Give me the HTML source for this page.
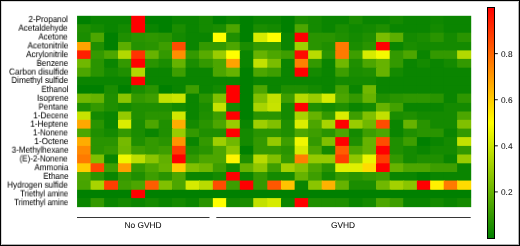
<!DOCTYPE html>
<html><head><meta charset="utf-8"><style>
html,body{margin:0;padding:0;background:#fff;}
body{width:520px;height:246px;position:relative;overflow:hidden;-webkit-font-smoothing:antialiased;text-rendering:geometricPrecision;font-family:"Liberation Sans",sans-serif;color:#000;-webkit-text-stroke:0.03px #000;}
.frame{position:absolute;left:0;top:0;width:518px;height:244px;border-left:1px solid #000;border-top:1px solid #000;border-right:1px solid #000;border-bottom:1px solid #000;box-shadow:inset 1px 1px 0 #d8d8d8, inset -1px -1px 0 #b0b0b0;}
svg{position:absolute;left:0;top:0;}
.lab{position:absolute;will-change:transform;transform-origin:100% 8px;right:451.9px;font-size:8.4px;line-height:10px;height:10px;white-space:nowrap;text-align:right;}
.tk{position:absolute;will-change:transform;left:501.2px;font-size:8.3px;line-height:10px;white-space:nowrap;}
.grp{position:absolute;will-change:transform;top:220.0px;font-size:8.4px;line-height:10px;white-space:nowrap;text-align:center;}
</style></head><body>
<div class="frame"></div>
<svg width="520" height="246" viewBox="0 0 520 246">
<defs><linearGradient id="g" x1="0" y1="0" x2="0" y2="1"><stop offset="0.000" stop-color="#ff0000"/><stop offset="0.050" stop-color="#ff1a00"/><stop offset="0.100" stop-color="#ff3300"/><stop offset="0.150" stop-color="#ff4c00"/><stop offset="0.200" stop-color="#ff6600"/><stop offset="0.250" stop-color="#ff8000"/><stop offset="0.300" stop-color="#ff9900"/><stop offset="0.350" stop-color="#ffb200"/><stop offset="0.400" stop-color="#ffcc00"/><stop offset="0.450" stop-color="#ffe500"/><stop offset="0.500" stop-color="#ffff00"/><stop offset="0.550" stop-color="#e5f200"/><stop offset="0.600" stop-color="#cce600"/><stop offset="0.650" stop-color="#b2d900"/><stop offset="0.700" stop-color="#99cc00"/><stop offset="0.750" stop-color="#80c000"/><stop offset="0.800" stop-color="#66b300"/><stop offset="0.850" stop-color="#4da600"/><stop offset="0.900" stop-color="#339900"/><stop offset="0.950" stop-color="#1a8d00"/><stop offset="1.000" stop-color="#008000"/></linearGradient></defs>
<mask id="gm" maskUnits="userSpaceOnUse" x="0" y="0" width="520" height="246"><rect x="77.05" y="15.8" width="394.15" height="191.35" fill="#fff"/></mask>
<g mask="url(#gm)"><rect x="77.00" y="15.00" width="14.60" height="10.20" fill="#008000"/><rect x="90.60" y="15.00" width="14.50" height="10.20" fill="#0a8500"/><rect x="104.10" y="15.00" width="14.90" height="10.20" fill="#0a8500"/><rect x="118.00" y="15.00" width="14.20" height="10.20" fill="#0a8500"/><rect x="131.20" y="15.00" width="14.85" height="10.20" fill="#ff0000"/><rect x="145.05" y="15.00" width="14.60" height="10.20" fill="#008000"/><rect x="158.65" y="15.00" width="14.35" height="10.20" fill="#008000"/><rect x="172.00" y="15.00" width="14.60" height="10.20" fill="#0a8500"/><rect x="185.60" y="15.00" width="14.40" height="10.20" fill="#0a8500"/><rect x="199.00" y="15.00" width="14.85" height="10.20" fill="#148a00"/><rect x="212.85" y="15.00" width="14.30" height="10.20" fill="#008000"/><rect x="226.15" y="15.00" width="14.65" height="10.20" fill="#0a8500"/><rect x="239.80" y="15.00" width="14.45" height="10.20" fill="#008000"/><rect x="253.25" y="15.00" width="15.05" height="10.20" fill="#0a8500"/><rect x="267.30" y="15.00" width="14.70" height="10.20" fill="#0a8500"/><rect x="281.00" y="15.00" width="14.65" height="10.20" fill="#008000"/><rect x="294.65" y="15.00" width="14.45" height="10.20" fill="#1a8d00"/><rect x="308.10" y="15.00" width="14.60" height="10.20" fill="#148a00"/><rect x="321.70" y="15.00" width="14.55" height="10.20" fill="#0a8500"/><rect x="335.25" y="15.00" width="14.65" height="10.20" fill="#0a8500"/><rect x="348.90" y="15.00" width="14.60" height="10.20" fill="#1a8d00"/><rect x="362.50" y="15.00" width="14.50" height="10.20" fill="#0a8500"/><rect x="376.00" y="15.00" width="14.70" height="10.20" fill="#0a8500"/><rect x="389.70" y="15.00" width="14.50" height="10.20" fill="#148a00"/><rect x="403.20" y="15.00" width="14.70" height="10.20" fill="#0a8500"/><rect x="416.90" y="15.00" width="14.25" height="10.20" fill="#0a8500"/><rect x="430.15" y="15.00" width="14.57" height="10.20" fill="#0f8800"/><rect x="443.72" y="15.00" width="14.38" height="10.20" fill="#0a8500"/><rect x="457.10" y="15.00" width="14.90" height="10.20" fill="#0a8500"/><rect x="77.00" y="24.20" width="14.60" height="9.50" fill="#1f8f00"/><rect x="90.60" y="24.20" width="14.50" height="9.50" fill="#148a00"/><rect x="104.10" y="24.20" width="14.90" height="9.50" fill="#0a8500"/><rect x="118.00" y="24.20" width="14.20" height="9.50" fill="#148a00"/><rect x="131.20" y="24.20" width="14.85" height="9.50" fill="#ff0000"/><rect x="145.05" y="24.20" width="14.60" height="9.50" fill="#0a8500"/><rect x="158.65" y="24.20" width="14.35" height="9.50" fill="#008000"/><rect x="172.00" y="24.20" width="14.60" height="9.50" fill="#1a8d00"/><rect x="185.60" y="24.20" width="14.40" height="9.50" fill="#0a8500"/><rect x="199.00" y="24.20" width="14.85" height="9.50" fill="#148a00"/><rect x="212.85" y="24.20" width="14.30" height="9.50" fill="#1a8d00"/><rect x="226.15" y="24.20" width="14.65" height="9.50" fill="#4ca600"/><rect x="239.80" y="24.20" width="14.45" height="9.50" fill="#008000"/><rect x="253.25" y="24.20" width="15.05" height="9.50" fill="#1a8d00"/><rect x="267.30" y="24.20" width="14.70" height="9.50" fill="#148a00"/><rect x="281.00" y="24.20" width="14.65" height="9.50" fill="#008000"/><rect x="294.65" y="24.20" width="14.45" height="9.50" fill="#4ca600"/><rect x="308.10" y="24.20" width="14.60" height="9.50" fill="#148a00"/><rect x="321.70" y="24.20" width="14.55" height="9.50" fill="#0a8500"/><rect x="335.25" y="24.20" width="14.65" height="9.50" fill="#1a8d00"/><rect x="348.90" y="24.20" width="14.60" height="9.50" fill="#0f8800"/><rect x="362.50" y="24.20" width="14.50" height="9.50" fill="#148a00"/><rect x="376.00" y="24.20" width="14.70" height="9.50" fill="#1f8f00"/><rect x="389.70" y="24.20" width="14.50" height="9.50" fill="#0a8500"/><rect x="403.20" y="24.20" width="14.70" height="9.50" fill="#0a8500"/><rect x="416.90" y="24.20" width="14.25" height="9.50" fill="#0a8500"/><rect x="430.15" y="24.20" width="14.57" height="9.50" fill="#148a00"/><rect x="443.72" y="24.20" width="14.38" height="9.50" fill="#0a8500"/><rect x="457.10" y="24.20" width="14.90" height="9.50" fill="#0a8500"/><rect x="77.00" y="32.70" width="14.60" height="10.30" fill="#1a8d00"/><rect x="90.60" y="32.70" width="14.50" height="10.30" fill="#4ca600"/><rect x="104.10" y="32.70" width="14.90" height="10.30" fill="#008000"/><rect x="118.00" y="32.70" width="14.20" height="10.30" fill="#1f8f00"/><rect x="131.20" y="32.70" width="14.85" height="10.30" fill="#299400"/><rect x="145.05" y="32.70" width="14.60" height="10.30" fill="#2e9700"/><rect x="158.65" y="32.70" width="14.35" height="10.30" fill="#299400"/><rect x="172.00" y="32.70" width="14.60" height="10.30" fill="#148a00"/><rect x="185.60" y="32.70" width="14.40" height="10.30" fill="#0a8500"/><rect x="199.00" y="32.70" width="14.85" height="10.30" fill="#0a8500"/><rect x="212.85" y="32.70" width="14.30" height="10.30" fill="#ffff00"/><rect x="226.15" y="32.70" width="14.65" height="10.30" fill="#1f8f00"/><rect x="239.80" y="32.70" width="14.45" height="10.30" fill="#008000"/><rect x="253.25" y="32.70" width="15.05" height="10.30" fill="#d6eb00"/><rect x="267.30" y="32.70" width="14.70" height="10.30" fill="#ffff00"/><rect x="281.00" y="32.70" width="14.65" height="10.30" fill="#0a8500"/><rect x="294.65" y="32.70" width="14.45" height="10.30" fill="#ff0000"/><rect x="308.10" y="32.70" width="14.60" height="10.30" fill="#299400"/><rect x="321.70" y="32.70" width="14.55" height="10.30" fill="#299400"/><rect x="335.25" y="32.70" width="14.65" height="10.30" fill="#1f8f00"/><rect x="348.90" y="32.70" width="14.60" height="10.30" fill="#148a00"/><rect x="362.50" y="32.70" width="14.50" height="10.30" fill="#1f8f00"/><rect x="376.00" y="32.70" width="14.70" height="10.30" fill="#7abd00"/><rect x="389.70" y="32.70" width="14.50" height="10.30" fill="#5cae00"/><rect x="403.20" y="32.70" width="14.70" height="10.30" fill="#148a00"/><rect x="416.90" y="32.70" width="14.25" height="10.30" fill="#1a8d00"/><rect x="430.15" y="32.70" width="14.57" height="10.30" fill="#299400"/><rect x="443.72" y="32.70" width="14.38" height="10.30" fill="#148a00"/><rect x="457.10" y="32.70" width="14.90" height="10.30" fill="#299400"/><rect x="77.00" y="42.00" width="14.60" height="9.40" fill="#ffa300"/><rect x="90.60" y="42.00" width="14.50" height="9.40" fill="#1f8f00"/><rect x="104.10" y="42.00" width="14.90" height="9.40" fill="#008000"/><rect x="118.00" y="42.00" width="14.20" height="9.40" fill="#5cae00"/><rect x="131.20" y="42.00" width="14.85" height="9.40" fill="#249200"/><rect x="145.05" y="42.00" width="14.60" height="9.40" fill="#299400"/><rect x="158.65" y="42.00" width="14.35" height="9.40" fill="#3d9e00"/><rect x="172.00" y="42.00" width="14.60" height="9.40" fill="#ff4c00"/><rect x="185.60" y="42.00" width="14.40" height="9.40" fill="#0a8500"/><rect x="199.00" y="42.00" width="14.85" height="9.40" fill="#339900"/><rect x="212.85" y="42.00" width="14.30" height="9.40" fill="#339900"/><rect x="226.15" y="42.00" width="14.65" height="9.40" fill="#4ca600"/><rect x="239.80" y="42.00" width="14.45" height="9.40" fill="#1a8d00"/><rect x="253.25" y="42.00" width="15.05" height="9.40" fill="#339900"/><rect x="267.30" y="42.00" width="14.70" height="9.40" fill="#339900"/><rect x="281.00" y="42.00" width="14.65" height="9.40" fill="#0a8500"/><rect x="294.65" y="42.00" width="14.45" height="9.40" fill="#9ecf00"/><rect x="308.10" y="42.00" width="14.60" height="9.40" fill="#299400"/><rect x="321.70" y="42.00" width="14.55" height="9.40" fill="#1f8f00"/><rect x="335.25" y="42.00" width="14.65" height="9.40" fill="#ff7a00"/><rect x="348.90" y="42.00" width="14.60" height="9.40" fill="#1a8d00"/><rect x="362.50" y="42.00" width="14.50" height="9.40" fill="#299400"/><rect x="376.00" y="42.00" width="14.70" height="9.40" fill="#ff0000"/><rect x="389.70" y="42.00" width="14.50" height="9.40" fill="#0a8500"/><rect x="403.20" y="42.00" width="14.70" height="9.40" fill="#1a8d00"/><rect x="416.90" y="42.00" width="14.25" height="9.40" fill="#148a00"/><rect x="430.15" y="42.00" width="14.57" height="9.40" fill="#148a00"/><rect x="443.72" y="42.00" width="14.38" height="9.40" fill="#148a00"/><rect x="457.10" y="42.00" width="14.90" height="9.40" fill="#148a00"/><rect x="77.00" y="50.40" width="14.60" height="9.50" fill="#ff1f00"/><rect x="90.60" y="50.40" width="14.50" height="9.50" fill="#339900"/><rect x="104.10" y="50.40" width="14.90" height="9.50" fill="#4ca600"/><rect x="118.00" y="50.40" width="14.20" height="9.50" fill="#b2d900"/><rect x="131.20" y="50.40" width="14.85" height="9.50" fill="#ff3300"/><rect x="145.05" y="50.40" width="14.60" height="9.50" fill="#66b300"/><rect x="158.65" y="50.40" width="14.35" height="9.50" fill="#339900"/><rect x="172.00" y="50.40" width="14.60" height="9.50" fill="#ff8f00"/><rect x="185.60" y="50.40" width="14.40" height="9.50" fill="#339900"/><rect x="199.00" y="50.40" width="14.85" height="9.50" fill="#57ab00"/><rect x="212.85" y="50.40" width="14.30" height="9.50" fill="#99cc00"/><rect x="226.15" y="50.40" width="14.65" height="9.50" fill="#ffff00"/><rect x="239.80" y="50.40" width="14.45" height="9.50" fill="#0a8500"/><rect x="253.25" y="50.40" width="15.05" height="9.50" fill="#66b300"/><rect x="267.30" y="50.40" width="14.70" height="9.50" fill="#4ca600"/><rect x="281.00" y="50.40" width="14.65" height="9.50" fill="#3d9e00"/><rect x="294.65" y="50.40" width="14.45" height="9.50" fill="#ff0a00"/><rect x="308.10" y="50.40" width="14.60" height="9.50" fill="#b8db00"/><rect x="321.70" y="50.40" width="14.55" height="9.50" fill="#299400"/><rect x="335.25" y="50.40" width="14.65" height="9.50" fill="#ff7a00"/><rect x="348.90" y="50.40" width="14.60" height="9.50" fill="#3d9e00"/><rect x="362.50" y="50.40" width="14.50" height="9.50" fill="#d6eb00"/><rect x="376.00" y="50.40" width="14.70" height="9.50" fill="#f5fa00"/><rect x="389.70" y="50.40" width="14.50" height="9.50" fill="#339900"/><rect x="403.20" y="50.40" width="14.70" height="9.50" fill="#4ca600"/><rect x="416.90" y="50.40" width="14.25" height="9.50" fill="#0a8500"/><rect x="430.15" y="50.40" width="14.57" height="9.50" fill="#339900"/><rect x="443.72" y="50.40" width="14.38" height="9.50" fill="#339900"/><rect x="457.10" y="50.40" width="14.90" height="9.50" fill="#b2d900"/><rect x="77.00" y="58.90" width="14.60" height="9.80" fill="#70b800"/><rect x="90.60" y="58.90" width="14.50" height="9.80" fill="#299400"/><rect x="104.10" y="58.90" width="14.90" height="9.80" fill="#0a8500"/><rect x="118.00" y="58.90" width="14.20" height="9.80" fill="#339900"/><rect x="131.20" y="58.90" width="14.85" height="9.80" fill="#ff0000"/><rect x="145.05" y="58.90" width="14.60" height="9.80" fill="#299400"/><rect x="158.65" y="58.90" width="14.35" height="9.80" fill="#1a8d00"/><rect x="172.00" y="58.90" width="14.60" height="9.80" fill="#66b300"/><rect x="185.60" y="58.90" width="14.40" height="9.80" fill="#1a8d00"/><rect x="199.00" y="58.90" width="14.85" height="9.80" fill="#339900"/><rect x="212.85" y="58.90" width="14.30" height="9.80" fill="#4ca600"/><rect x="226.15" y="58.90" width="14.65" height="9.80" fill="#ffa300"/><rect x="239.80" y="58.90" width="14.45" height="9.80" fill="#0a8500"/><rect x="253.25" y="58.90" width="15.05" height="9.80" fill="#c2e100"/><rect x="267.30" y="58.90" width="14.70" height="9.80" fill="#7abd00"/><rect x="281.00" y="58.90" width="14.65" height="9.80" fill="#0a8500"/><rect x="294.65" y="58.90" width="14.45" height="9.80" fill="#ff8000"/><rect x="308.10" y="58.90" width="14.60" height="9.80" fill="#339900"/><rect x="321.70" y="58.90" width="14.55" height="9.80" fill="#0a8500"/><rect x="335.25" y="58.90" width="14.65" height="9.80" fill="#70b800"/><rect x="348.90" y="58.90" width="14.60" height="9.80" fill="#1f8f00"/><rect x="362.50" y="58.90" width="14.50" height="9.80" fill="#4ca600"/><rect x="376.00" y="58.90" width="14.70" height="9.80" fill="#66b300"/><rect x="389.70" y="58.90" width="14.50" height="9.80" fill="#339900"/><rect x="403.20" y="58.90" width="14.70" height="9.80" fill="#0a8500"/><rect x="416.90" y="58.90" width="14.25" height="9.80" fill="#148a00"/><rect x="430.15" y="58.90" width="14.57" height="9.80" fill="#0a8500"/><rect x="443.72" y="58.90" width="14.38" height="9.80" fill="#148a00"/><rect x="457.10" y="58.90" width="14.90" height="9.80" fill="#339900"/><rect x="77.00" y="67.70" width="14.60" height="10.00" fill="#4ca600"/><rect x="90.60" y="67.70" width="14.50" height="10.00" fill="#299400"/><rect x="104.10" y="67.70" width="14.90" height="10.00" fill="#148a00"/><rect x="118.00" y="67.70" width="14.20" height="10.00" fill="#1f8f00"/><rect x="131.20" y="67.70" width="14.85" height="10.00" fill="#b2d900"/><rect x="145.05" y="67.70" width="14.60" height="10.00" fill="#0a8500"/><rect x="158.65" y="67.70" width="14.35" height="10.00" fill="#0a8500"/><rect x="172.00" y="67.70" width="14.60" height="10.00" fill="#3d9e00"/><rect x="185.60" y="67.70" width="14.40" height="10.00" fill="#0a8500"/><rect x="199.00" y="67.70" width="14.85" height="10.00" fill="#0a8500"/><rect x="212.85" y="67.70" width="14.30" height="10.00" fill="#4ca600"/><rect x="226.15" y="67.70" width="14.65" height="10.00" fill="#66b300"/><rect x="239.80" y="67.70" width="14.45" height="10.00" fill="#008000"/><rect x="253.25" y="67.70" width="15.05" height="10.00" fill="#4ca600"/><rect x="267.30" y="67.70" width="14.70" height="10.00" fill="#3d9e00"/><rect x="281.00" y="67.70" width="14.65" height="10.00" fill="#0a8500"/><rect x="294.65" y="67.70" width="14.45" height="10.00" fill="#ff0000"/><rect x="308.10" y="67.70" width="14.60" height="10.00" fill="#148a00"/><rect x="321.70" y="67.70" width="14.55" height="10.00" fill="#0a8500"/><rect x="335.25" y="67.70" width="14.65" height="10.00" fill="#3d9e00"/><rect x="348.90" y="67.70" width="14.60" height="10.00" fill="#1a8d00"/><rect x="362.50" y="67.70" width="14.50" height="10.00" fill="#1f8f00"/><rect x="376.00" y="67.70" width="14.70" height="10.00" fill="#66b300"/><rect x="389.70" y="67.70" width="14.50" height="10.00" fill="#148a00"/><rect x="403.20" y="67.70" width="14.70" height="10.00" fill="#0a8500"/><rect x="416.90" y="67.70" width="14.25" height="10.00" fill="#0a8500"/><rect x="430.15" y="67.70" width="14.57" height="10.00" fill="#0a8500"/><rect x="443.72" y="67.70" width="14.38" height="10.00" fill="#0a8500"/><rect x="457.10" y="67.70" width="14.90" height="10.00" fill="#0a8500"/><rect x="77.00" y="76.70" width="14.60" height="9.45" fill="#0a8500"/><rect x="90.60" y="76.70" width="14.50" height="9.45" fill="#0a8500"/><rect x="104.10" y="76.70" width="14.90" height="9.45" fill="#0a8500"/><rect x="118.00" y="76.70" width="14.20" height="9.45" fill="#0a8500"/><rect x="131.20" y="76.70" width="14.85" height="9.45" fill="#ff0000"/><rect x="145.05" y="76.70" width="14.60" height="9.45" fill="#0a8500"/><rect x="158.65" y="76.70" width="14.35" height="9.45" fill="#0a8500"/><rect x="172.00" y="76.70" width="14.60" height="9.45" fill="#0a8500"/><rect x="185.60" y="76.70" width="14.40" height="9.45" fill="#0a8500"/><rect x="199.00" y="76.70" width="14.85" height="9.45" fill="#0a8500"/><rect x="212.85" y="76.70" width="14.30" height="9.45" fill="#0a8500"/><rect x="226.15" y="76.70" width="14.65" height="9.45" fill="#0a8500"/><rect x="239.80" y="76.70" width="14.45" height="9.45" fill="#008000"/><rect x="253.25" y="76.70" width="15.05" height="9.45" fill="#0a8500"/><rect x="267.30" y="76.70" width="14.70" height="9.45" fill="#0a8500"/><rect x="281.00" y="76.70" width="14.65" height="9.45" fill="#0a8500"/><rect x="294.65" y="76.70" width="14.45" height="9.45" fill="#0a8500"/><rect x="308.10" y="76.70" width="14.60" height="9.45" fill="#0a8500"/><rect x="321.70" y="76.70" width="14.55" height="9.45" fill="#0a8500"/><rect x="335.25" y="76.70" width="14.65" height="9.45" fill="#148a00"/><rect x="348.90" y="76.70" width="14.60" height="9.45" fill="#148a00"/><rect x="362.50" y="76.70" width="14.50" height="9.45" fill="#148a00"/><rect x="376.00" y="76.70" width="14.70" height="9.45" fill="#0a8500"/><rect x="389.70" y="76.70" width="14.50" height="9.45" fill="#0a8500"/><rect x="403.20" y="76.70" width="14.70" height="9.45" fill="#0a8500"/><rect x="416.90" y="76.70" width="14.25" height="9.45" fill="#0a8500"/><rect x="430.15" y="76.70" width="14.57" height="9.45" fill="#0a8500"/><rect x="443.72" y="76.70" width="14.38" height="9.45" fill="#0a8500"/><rect x="457.10" y="76.70" width="14.90" height="9.45" fill="#0a8500"/><rect x="77.00" y="85.15" width="14.60" height="9.45" fill="#008000"/><rect x="90.60" y="85.15" width="14.50" height="9.45" fill="#008000"/><rect x="104.10" y="85.15" width="14.90" height="9.45" fill="#1a8d00"/><rect x="118.00" y="85.15" width="14.20" height="9.45" fill="#008000"/><rect x="131.20" y="85.15" width="14.85" height="9.45" fill="#1a8d00"/><rect x="145.05" y="85.15" width="14.60" height="9.45" fill="#299400"/><rect x="158.65" y="85.15" width="14.35" height="9.45" fill="#008000"/><rect x="172.00" y="85.15" width="14.60" height="9.45" fill="#0a8500"/><rect x="185.60" y="85.15" width="14.40" height="9.45" fill="#3d9e00"/><rect x="199.00" y="85.15" width="14.85" height="9.45" fill="#0a8500"/><rect x="212.85" y="85.15" width="14.30" height="9.45" fill="#148a00"/><rect x="226.15" y="85.15" width="14.65" height="9.45" fill="#ff0000"/><rect x="239.80" y="85.15" width="14.45" height="9.45" fill="#008000"/><rect x="253.25" y="85.15" width="15.05" height="9.45" fill="#4ca600"/><rect x="267.30" y="85.15" width="14.70" height="9.45" fill="#0a8500"/><rect x="281.00" y="85.15" width="14.65" height="9.45" fill="#1f8f00"/><rect x="294.65" y="85.15" width="14.45" height="9.45" fill="#1f8f00"/><rect x="308.10" y="85.15" width="14.60" height="9.45" fill="#148a00"/><rect x="321.70" y="85.15" width="14.55" height="9.45" fill="#0a8500"/><rect x="335.25" y="85.15" width="14.65" height="9.45" fill="#42a100"/><rect x="348.90" y="85.15" width="14.60" height="9.45" fill="#0a8500"/><rect x="362.50" y="85.15" width="14.50" height="9.45" fill="#70b800"/><rect x="376.00" y="85.15" width="14.70" height="9.45" fill="#0a8500"/><rect x="389.70" y="85.15" width="14.50" height="9.45" fill="#0a8500"/><rect x="403.20" y="85.15" width="14.70" height="9.45" fill="#0a8500"/><rect x="416.90" y="85.15" width="14.25" height="9.45" fill="#0a8500"/><rect x="430.15" y="85.15" width="14.57" height="9.45" fill="#0a8500"/><rect x="443.72" y="85.15" width="14.38" height="9.45" fill="#0a8500"/><rect x="457.10" y="85.15" width="14.90" height="9.45" fill="#0a8500"/><rect x="77.00" y="93.60" width="14.60" height="10.30" fill="#70b800"/><rect x="90.60" y="93.60" width="14.50" height="10.30" fill="#66b300"/><rect x="104.10" y="93.60" width="14.90" height="10.30" fill="#1f8f00"/><rect x="118.00" y="93.60" width="14.20" height="10.30" fill="#8ac500"/><rect x="131.20" y="93.60" width="14.85" height="10.30" fill="#339900"/><rect x="145.05" y="93.60" width="14.60" height="10.30" fill="#3d9e00"/><rect x="158.65" y="93.60" width="14.35" height="10.30" fill="#c2e100"/><rect x="172.00" y="93.60" width="14.60" height="10.30" fill="#cce600"/><rect x="185.60" y="93.60" width="14.40" height="10.30" fill="#0a8500"/><rect x="199.00" y="93.60" width="14.85" height="10.30" fill="#299400"/><rect x="212.85" y="93.60" width="14.30" height="10.30" fill="#80c000"/><rect x="226.15" y="93.60" width="14.65" height="10.30" fill="#ff0000"/><rect x="239.80" y="93.60" width="14.45" height="10.30" fill="#008000"/><rect x="253.25" y="93.60" width="15.05" height="10.30" fill="#80c000"/><rect x="267.30" y="93.60" width="14.70" height="10.30" fill="#c2e100"/><rect x="281.00" y="93.60" width="14.65" height="10.30" fill="#3d9e00"/><rect x="294.65" y="93.60" width="14.45" height="10.30" fill="#b8db00"/><rect x="308.10" y="93.60" width="14.60" height="10.30" fill="#99cc00"/><rect x="321.70" y="93.60" width="14.55" height="10.30" fill="#d6eb00"/><rect x="335.25" y="93.60" width="14.65" height="10.30" fill="#4ca600"/><rect x="348.90" y="93.60" width="14.60" height="10.30" fill="#339900"/><rect x="362.50" y="93.60" width="14.50" height="10.30" fill="#66b300"/><rect x="376.00" y="93.60" width="14.70" height="10.30" fill="#1f8f00"/><rect x="389.70" y="93.60" width="14.50" height="10.30" fill="#299400"/><rect x="403.20" y="93.60" width="14.70" height="10.30" fill="#2e9700"/><rect x="416.90" y="93.60" width="14.25" height="10.30" fill="#2e9700"/><rect x="430.15" y="93.60" width="14.57" height="10.30" fill="#299400"/><rect x="443.72" y="93.60" width="14.38" height="10.30" fill="#0a8500"/><rect x="457.10" y="93.60" width="14.90" height="10.30" fill="#2e9700"/><rect x="77.00" y="102.90" width="14.60" height="9.60" fill="#1f8f00"/><rect x="90.60" y="102.90" width="14.50" height="9.60" fill="#339900"/><rect x="104.10" y="102.90" width="14.90" height="9.60" fill="#1f8f00"/><rect x="118.00" y="102.90" width="14.20" height="9.60" fill="#148a00"/><rect x="131.20" y="102.90" width="14.85" height="9.60" fill="#1f8f00"/><rect x="145.05" y="102.90" width="14.60" height="9.60" fill="#1f8f00"/><rect x="158.65" y="102.90" width="14.35" height="9.60" fill="#1f8f00"/><rect x="172.00" y="102.90" width="14.60" height="9.60" fill="#148a00"/><rect x="185.60" y="102.90" width="14.40" height="9.60" fill="#0a8500"/><rect x="199.00" y="102.90" width="14.85" height="9.60" fill="#1a8d00"/><rect x="212.85" y="102.90" width="14.30" height="9.60" fill="#c7e300"/><rect x="226.15" y="102.90" width="14.65" height="9.60" fill="#148a00"/><rect x="239.80" y="102.90" width="14.45" height="9.60" fill="#008000"/><rect x="253.25" y="102.90" width="15.05" height="9.60" fill="#a8d400"/><rect x="267.30" y="102.90" width="14.70" height="9.60" fill="#c7e300"/><rect x="281.00" y="102.90" width="14.65" height="9.60" fill="#148a00"/><rect x="294.65" y="102.90" width="14.45" height="9.60" fill="#ff0000"/><rect x="308.10" y="102.90" width="14.60" height="9.60" fill="#1f8f00"/><rect x="321.70" y="102.90" width="14.55" height="9.60" fill="#148a00"/><rect x="335.25" y="102.90" width="14.65" height="9.60" fill="#1f8f00"/><rect x="348.90" y="102.90" width="14.60" height="9.60" fill="#0a8500"/><rect x="362.50" y="102.90" width="14.50" height="9.60" fill="#148a00"/><rect x="376.00" y="102.90" width="14.70" height="9.60" fill="#66b300"/><rect x="389.70" y="102.90" width="14.50" height="9.60" fill="#42a100"/><rect x="403.20" y="102.90" width="14.70" height="9.60" fill="#0a8500"/><rect x="416.90" y="102.90" width="14.25" height="9.60" fill="#0a8500"/><rect x="430.15" y="102.90" width="14.57" height="9.60" fill="#0a8500"/><rect x="443.72" y="102.90" width="14.38" height="9.60" fill="#148a00"/><rect x="457.10" y="102.90" width="14.90" height="9.60" fill="#148a00"/><rect x="77.00" y="111.50" width="14.60" height="9.30" fill="#c7e300"/><rect x="90.60" y="111.50" width="14.50" height="9.30" fill="#148a00"/><rect x="104.10" y="111.50" width="14.90" height="9.30" fill="#0a8500"/><rect x="118.00" y="111.50" width="14.20" height="9.30" fill="#94ca00"/><rect x="131.20" y="111.50" width="14.85" height="9.30" fill="#1f8f00"/><rect x="145.05" y="111.50" width="14.60" height="9.30" fill="#299400"/><rect x="158.65" y="111.50" width="14.35" height="9.30" fill="#299400"/><rect x="172.00" y="111.50" width="14.60" height="9.30" fill="#d1e800"/><rect x="185.60" y="111.50" width="14.40" height="9.30" fill="#0a8500"/><rect x="199.00" y="111.50" width="14.85" height="9.30" fill="#1f8f00"/><rect x="212.85" y="111.50" width="14.30" height="9.30" fill="#3d9e00"/><rect x="226.15" y="111.50" width="14.65" height="9.30" fill="#ff0000"/><rect x="239.80" y="111.50" width="14.45" height="9.30" fill="#008000"/><rect x="253.25" y="111.50" width="15.05" height="9.30" fill="#299400"/><rect x="267.30" y="111.50" width="14.70" height="9.30" fill="#299400"/><rect x="281.00" y="111.50" width="14.65" height="9.30" fill="#148a00"/><rect x="294.65" y="111.50" width="14.45" height="9.30" fill="#a8d400"/><rect x="308.10" y="111.50" width="14.60" height="9.30" fill="#66b300"/><rect x="321.70" y="111.50" width="14.55" height="9.30" fill="#339900"/><rect x="335.25" y="111.50" width="14.65" height="9.30" fill="#dbed00"/><rect x="348.90" y="111.50" width="14.60" height="9.30" fill="#3d9e00"/><rect x="362.50" y="111.50" width="14.50" height="9.30" fill="#80c000"/><rect x="376.00" y="111.50" width="14.70" height="9.30" fill="#c2e100"/><rect x="389.70" y="111.50" width="14.50" height="9.30" fill="#1a8d00"/><rect x="403.20" y="111.50" width="14.70" height="9.30" fill="#1f8f00"/><rect x="416.90" y="111.50" width="14.25" height="9.30" fill="#148a00"/><rect x="430.15" y="111.50" width="14.57" height="9.30" fill="#148a00"/><rect x="443.72" y="111.50" width="14.38" height="9.30" fill="#148a00"/><rect x="457.10" y="111.50" width="14.90" height="9.30" fill="#4ca600"/><rect x="77.00" y="119.80" width="14.60" height="9.80" fill="#ffa800"/><rect x="90.60" y="119.80" width="14.50" height="9.80" fill="#299400"/><rect x="104.10" y="119.80" width="14.90" height="9.80" fill="#0a8500"/><rect x="118.00" y="119.80" width="14.20" height="9.80" fill="#dbed00"/><rect x="131.20" y="119.80" width="14.85" height="9.80" fill="#1a8d00"/><rect x="145.05" y="119.80" width="14.60" height="9.80" fill="#4ca600"/><rect x="158.65" y="119.80" width="14.35" height="9.80" fill="#1f8f00"/><rect x="172.00" y="119.80" width="14.60" height="9.80" fill="#ffad00"/><rect x="185.60" y="119.80" width="14.40" height="9.80" fill="#148a00"/><rect x="199.00" y="119.80" width="14.85" height="9.80" fill="#299400"/><rect x="212.85" y="119.80" width="14.30" height="9.80" fill="#4ca600"/><rect x="226.15" y="119.80" width="14.65" height="9.80" fill="#99cc00"/><rect x="239.80" y="119.80" width="14.45" height="9.80" fill="#0a8500"/><rect x="253.25" y="119.80" width="15.05" height="9.80" fill="#9ecf00"/><rect x="267.30" y="119.80" width="14.70" height="9.80" fill="#80c000"/><rect x="281.00" y="119.80" width="14.65" height="9.80" fill="#1f8f00"/><rect x="294.65" y="119.80" width="14.45" height="9.80" fill="#dbed00"/><rect x="308.10" y="119.80" width="14.60" height="9.80" fill="#4ca600"/><rect x="321.70" y="119.80" width="14.55" height="9.80" fill="#a8d400"/><rect x="335.25" y="119.80" width="14.65" height="9.80" fill="#ff0000"/><rect x="348.90" y="119.80" width="14.60" height="9.80" fill="#99cc00"/><rect x="362.50" y="119.80" width="14.50" height="9.80" fill="#70b800"/><rect x="376.00" y="119.80" width="14.70" height="9.80" fill="#ff4c00"/><rect x="389.70" y="119.80" width="14.50" height="9.80" fill="#0a8500"/><rect x="403.20" y="119.80" width="14.70" height="9.80" fill="#66b300"/><rect x="416.90" y="119.80" width="14.25" height="9.80" fill="#299400"/><rect x="430.15" y="119.80" width="14.57" height="9.80" fill="#148a00"/><rect x="443.72" y="119.80" width="14.38" height="9.80" fill="#148a00"/><rect x="457.10" y="119.80" width="14.90" height="9.80" fill="#80c000"/><rect x="77.00" y="128.60" width="14.60" height="9.50" fill="#4ca600"/><rect x="90.60" y="128.60" width="14.50" height="9.50" fill="#1f8f00"/><rect x="104.10" y="128.60" width="14.90" height="9.50" fill="#148a00"/><rect x="118.00" y="128.60" width="14.20" height="9.50" fill="#339900"/><rect x="131.20" y="128.60" width="14.85" height="9.50" fill="#1a8d00"/><rect x="145.05" y="128.60" width="14.60" height="9.50" fill="#0a8500"/><rect x="158.65" y="128.60" width="14.35" height="9.50" fill="#1f8f00"/><rect x="172.00" y="128.60" width="14.60" height="9.50" fill="#99cc00"/><rect x="185.60" y="128.60" width="14.40" height="9.50" fill="#339900"/><rect x="199.00" y="128.60" width="14.85" height="9.50" fill="#1f8f00"/><rect x="212.85" y="128.60" width="14.30" height="9.50" fill="#1f8f00"/><rect x="226.15" y="128.60" width="14.65" height="9.50" fill="#ff0000"/><rect x="239.80" y="128.60" width="14.45" height="9.50" fill="#148a00"/><rect x="253.25" y="128.60" width="15.05" height="9.50" fill="#299400"/><rect x="267.30" y="128.60" width="14.70" height="9.50" fill="#299400"/><rect x="281.00" y="128.60" width="14.65" height="9.50" fill="#1f8f00"/><rect x="294.65" y="128.60" width="14.45" height="9.50" fill="#4ca600"/><rect x="308.10" y="128.60" width="14.60" height="9.50" fill="#3d9e00"/><rect x="321.70" y="128.60" width="14.55" height="9.50" fill="#299400"/><rect x="335.25" y="128.60" width="14.65" height="9.50" fill="#4ca600"/><rect x="348.90" y="128.60" width="14.60" height="9.50" fill="#148a00"/><rect x="362.50" y="128.60" width="14.50" height="9.50" fill="#3d9e00"/><rect x="376.00" y="128.60" width="14.70" height="9.50" fill="#4ca600"/><rect x="389.70" y="128.60" width="14.50" height="9.50" fill="#0a8500"/><rect x="403.20" y="128.60" width="14.70" height="9.50" fill="#1f8f00"/><rect x="416.90" y="128.60" width="14.25" height="9.50" fill="#299400"/><rect x="430.15" y="128.60" width="14.57" height="9.50" fill="#299400"/><rect x="443.72" y="128.60" width="14.38" height="9.50" fill="#0a8500"/><rect x="457.10" y="128.60" width="14.90" height="9.50" fill="#339900"/><rect x="77.00" y="137.10" width="14.60" height="9.80" fill="#ffad00"/><rect x="90.60" y="137.10" width="14.50" height="9.80" fill="#299400"/><rect x="104.10" y="137.10" width="14.90" height="9.80" fill="#299400"/><rect x="118.00" y="137.10" width="14.20" height="9.80" fill="#75ba00"/><rect x="131.20" y="137.10" width="14.85" height="9.80" fill="#1f8f00"/><rect x="145.05" y="137.10" width="14.60" height="9.80" fill="#339900"/><rect x="158.65" y="137.10" width="14.35" height="9.80" fill="#299400"/><rect x="172.00" y="137.10" width="14.60" height="9.80" fill="#ff9400"/><rect x="185.60" y="137.10" width="14.40" height="9.80" fill="#0a8500"/><rect x="199.00" y="137.10" width="14.85" height="9.80" fill="#339900"/><rect x="212.85" y="137.10" width="14.30" height="9.80" fill="#9ecf00"/><rect x="226.15" y="137.10" width="14.65" height="9.80" fill="#70b800"/><rect x="239.80" y="137.10" width="14.45" height="9.80" fill="#148a00"/><rect x="253.25" y="137.10" width="15.05" height="9.80" fill="#339900"/><rect x="267.30" y="137.10" width="14.70" height="9.80" fill="#94ca00"/><rect x="281.00" y="137.10" width="14.65" height="9.80" fill="#3d9e00"/><rect x="294.65" y="137.10" width="14.45" height="9.80" fill="#f0f700"/><rect x="308.10" y="137.10" width="14.60" height="9.80" fill="#339900"/><rect x="321.70" y="137.10" width="14.55" height="9.80" fill="#80c000"/><rect x="335.25" y="137.10" width="14.65" height="9.80" fill="#ff0000"/><rect x="348.90" y="137.10" width="14.60" height="9.80" fill="#1f8f00"/><rect x="362.50" y="137.10" width="14.50" height="9.80" fill="#66b300"/><rect x="376.00" y="137.10" width="14.70" height="9.80" fill="#ff4c00"/><rect x="389.70" y="137.10" width="14.50" height="9.80" fill="#1f8f00"/><rect x="403.20" y="137.10" width="14.70" height="9.80" fill="#3d9e00"/><rect x="416.90" y="137.10" width="14.25" height="9.80" fill="#008000"/><rect x="430.15" y="137.10" width="14.57" height="9.80" fill="#0a8500"/><rect x="443.72" y="137.10" width="14.38" height="9.80" fill="#148a00"/><rect x="457.10" y="137.10" width="14.90" height="9.80" fill="#c2e100"/><rect x="77.00" y="145.90" width="14.60" height="9.60" fill="#ff8a00"/><rect x="90.60" y="145.90" width="14.50" height="9.60" fill="#299400"/><rect x="104.10" y="145.90" width="14.90" height="9.60" fill="#339900"/><rect x="118.00" y="145.90" width="14.20" height="9.60" fill="#70b800"/><rect x="131.20" y="145.90" width="14.85" height="9.60" fill="#3d9e00"/><rect x="145.05" y="145.90" width="14.60" height="9.60" fill="#339900"/><rect x="158.65" y="145.90" width="14.35" height="9.60" fill="#3d9e00"/><rect x="172.00" y="145.90" width="14.60" height="9.60" fill="#ff3d00"/><rect x="185.60" y="145.90" width="14.40" height="9.60" fill="#1f8f00"/><rect x="199.00" y="145.90" width="14.85" height="9.60" fill="#299400"/><rect x="212.85" y="145.90" width="14.30" height="9.60" fill="#4ca600"/><rect x="226.15" y="145.90" width="14.65" height="9.60" fill="#8fc700"/><rect x="239.80" y="145.90" width="14.45" height="9.60" fill="#008000"/><rect x="253.25" y="145.90" width="15.05" height="9.60" fill="#339900"/><rect x="267.30" y="145.90" width="14.70" height="9.60" fill="#339900"/><rect x="281.00" y="145.90" width="14.65" height="9.60" fill="#299400"/><rect x="294.65" y="145.90" width="14.45" height="9.60" fill="#d6eb00"/><rect x="308.10" y="145.90" width="14.60" height="9.60" fill="#4ca600"/><rect x="321.70" y="145.90" width="14.55" height="9.60" fill="#148a00"/><rect x="335.25" y="145.90" width="14.65" height="9.60" fill="#ff5c00"/><rect x="348.90" y="145.90" width="14.60" height="9.60" fill="#4ca600"/><rect x="362.50" y="145.90" width="14.50" height="9.60" fill="#66b300"/><rect x="376.00" y="145.90" width="14.70" height="9.60" fill="#ff0000"/><rect x="389.70" y="145.90" width="14.50" height="9.60" fill="#1f8f00"/><rect x="403.20" y="145.90" width="14.70" height="9.60" fill="#148a00"/><rect x="416.90" y="145.90" width="14.25" height="9.60" fill="#0a8500"/><rect x="430.15" y="145.90" width="14.57" height="9.60" fill="#148a00"/><rect x="443.72" y="145.90" width="14.38" height="9.60" fill="#148a00"/><rect x="457.10" y="145.90" width="14.90" height="9.60" fill="#339900"/><rect x="77.00" y="154.50" width="14.60" height="9.80" fill="#ff7a00"/><rect x="90.60" y="154.50" width="14.50" height="9.80" fill="#80c000"/><rect x="104.10" y="154.50" width="14.90" height="9.80" fill="#0a8500"/><rect x="118.00" y="154.50" width="14.20" height="9.80" fill="#f0f700"/><rect x="131.20" y="154.50" width="14.85" height="9.80" fill="#bdde00"/><rect x="145.05" y="154.50" width="14.60" height="9.80" fill="#8ac500"/><rect x="158.65" y="154.50" width="14.35" height="9.80" fill="#61b000"/><rect x="172.00" y="154.50" width="14.60" height="9.80" fill="#ff0000"/><rect x="185.60" y="154.50" width="14.40" height="9.80" fill="#339900"/><rect x="199.00" y="154.50" width="14.85" height="9.80" fill="#4ca600"/><rect x="212.85" y="154.50" width="14.30" height="9.80" fill="#4ca600"/><rect x="226.15" y="154.50" width="14.65" height="9.80" fill="#fff500"/><rect x="239.80" y="154.50" width="14.45" height="9.80" fill="#1f8f00"/><rect x="253.25" y="154.50" width="15.05" height="9.80" fill="#b8db00"/><rect x="267.30" y="154.50" width="14.70" height="9.80" fill="#80c000"/><rect x="281.00" y="154.50" width="14.65" height="9.80" fill="#339900"/><rect x="294.65" y="154.50" width="14.45" height="9.80" fill="#ff8000"/><rect x="308.10" y="154.50" width="14.60" height="9.80" fill="#94ca00"/><rect x="321.70" y="154.50" width="14.55" height="9.80" fill="#94ca00"/><rect x="335.25" y="154.50" width="14.65" height="9.80" fill="#ff3d00"/><rect x="348.90" y="154.50" width="14.60" height="9.80" fill="#8fc700"/><rect x="362.50" y="154.50" width="14.50" height="9.80" fill="#ebf500"/><rect x="376.00" y="154.50" width="14.70" height="9.80" fill="#ff3d00"/><rect x="389.70" y="154.50" width="14.50" height="9.80" fill="#339900"/><rect x="403.20" y="154.50" width="14.70" height="9.80" fill="#148a00"/><rect x="416.90" y="154.50" width="14.25" height="9.80" fill="#1f8f00"/><rect x="430.15" y="154.50" width="14.57" height="9.80" fill="#1f8f00"/><rect x="443.72" y="154.50" width="14.38" height="9.80" fill="#0a8500"/><rect x="457.10" y="154.50" width="14.90" height="9.80" fill="#99cc00"/><rect x="77.00" y="163.30" width="14.60" height="9.70" fill="#ffcc00"/><rect x="90.60" y="163.30" width="14.50" height="9.70" fill="#ff4700"/><rect x="104.10" y="163.30" width="14.90" height="9.70" fill="#3d9e00"/><rect x="118.00" y="163.30" width="14.20" height="9.70" fill="#ff9e00"/><rect x="131.20" y="163.30" width="14.85" height="9.70" fill="#339900"/><rect x="145.05" y="163.30" width="14.60" height="9.70" fill="#4ca600"/><rect x="158.65" y="163.30" width="14.35" height="9.70" fill="#66b300"/><rect x="172.00" y="163.30" width="14.60" height="9.70" fill="#ffcc00"/><rect x="185.60" y="163.30" width="14.40" height="9.70" fill="#80c000"/><rect x="199.00" y="163.30" width="14.85" height="9.70" fill="#70b800"/><rect x="212.85" y="163.30" width="14.30" height="9.70" fill="#3d9e00"/><rect x="226.15" y="163.30" width="14.65" height="9.70" fill="#148a00"/><rect x="239.80" y="163.30" width="14.45" height="9.70" fill="#66b300"/><rect x="253.25" y="163.30" width="15.05" height="9.70" fill="#8fc700"/><rect x="267.30" y="163.30" width="14.70" height="9.70" fill="#3d9e00"/><rect x="281.00" y="163.30" width="14.65" height="9.70" fill="#a3d100"/><rect x="294.65" y="163.30" width="14.45" height="9.70" fill="#85c200"/><rect x="308.10" y="163.30" width="14.60" height="9.70" fill="#4ca600"/><rect x="321.70" y="163.30" width="14.55" height="9.70" fill="#299400"/><rect x="335.25" y="163.30" width="14.65" height="9.70" fill="#e0f000"/><rect x="348.90" y="163.30" width="14.60" height="9.70" fill="#e0f000"/><rect x="362.50" y="163.30" width="14.50" height="9.70" fill="#ffdb00"/><rect x="376.00" y="163.30" width="14.70" height="9.70" fill="#ff0000"/><rect x="389.70" y="163.30" width="14.50" height="9.70" fill="#66b300"/><rect x="403.20" y="163.30" width="14.70" height="9.70" fill="#4ca600"/><rect x="416.90" y="163.30" width="14.25" height="9.70" fill="#4ca600"/><rect x="430.15" y="163.30" width="14.57" height="9.70" fill="#3d9e00"/><rect x="443.72" y="163.30" width="14.38" height="9.70" fill="#3d9e00"/><rect x="457.10" y="163.30" width="14.90" height="9.70" fill="#0a8500"/><rect x="77.00" y="172.00" width="14.60" height="9.55" fill="#4ca600"/><rect x="90.60" y="172.00" width="14.50" height="9.55" fill="#299400"/><rect x="104.10" y="172.00" width="14.90" height="9.55" fill="#0a8500"/><rect x="118.00" y="172.00" width="14.20" height="9.55" fill="#339900"/><rect x="131.20" y="172.00" width="14.85" height="9.55" fill="#1f8f00"/><rect x="145.05" y="172.00" width="14.60" height="9.55" fill="#3d9e00"/><rect x="158.65" y="172.00" width="14.35" height="9.55" fill="#299400"/><rect x="172.00" y="172.00" width="14.60" height="9.55" fill="#4ca600"/><rect x="185.60" y="172.00" width="14.40" height="9.55" fill="#0a8500"/><rect x="199.00" y="172.00" width="14.85" height="9.55" fill="#0a8500"/><rect x="212.85" y="172.00" width="14.30" height="9.55" fill="#148a00"/><rect x="226.15" y="172.00" width="14.65" height="9.55" fill="#ff0000"/><rect x="239.80" y="172.00" width="14.45" height="9.55" fill="#0a8500"/><rect x="253.25" y="172.00" width="15.05" height="9.55" fill="#339900"/><rect x="267.30" y="172.00" width="14.70" height="9.55" fill="#148a00"/><rect x="281.00" y="172.00" width="14.65" height="9.55" fill="#148a00"/><rect x="294.65" y="172.00" width="14.45" height="9.55" fill="#66b300"/><rect x="308.10" y="172.00" width="14.60" height="9.55" fill="#3d9e00"/><rect x="321.70" y="172.00" width="14.55" height="9.55" fill="#148a00"/><rect x="335.25" y="172.00" width="14.65" height="9.55" fill="#339900"/><rect x="348.90" y="172.00" width="14.60" height="9.55" fill="#299400"/><rect x="362.50" y="172.00" width="14.50" height="9.55" fill="#339900"/><rect x="376.00" y="172.00" width="14.70" height="9.55" fill="#3d9e00"/><rect x="389.70" y="172.00" width="14.50" height="9.55" fill="#0a8500"/><rect x="403.20" y="172.00" width="14.70" height="9.55" fill="#0a8500"/><rect x="416.90" y="172.00" width="14.25" height="9.55" fill="#008000"/><rect x="430.15" y="172.00" width="14.57" height="9.55" fill="#0a8500"/><rect x="443.72" y="172.00" width="14.38" height="9.55" fill="#0a8500"/><rect x="457.10" y="172.00" width="14.90" height="9.55" fill="#0a8500"/><rect x="77.00" y="180.55" width="14.60" height="10.25" fill="#47a400"/><rect x="90.60" y="180.55" width="14.50" height="10.25" fill="#a8d400"/><rect x="104.10" y="180.55" width="14.90" height="10.25" fill="#ff3d00"/><rect x="118.00" y="180.55" width="14.20" height="10.25" fill="#3d9e00"/><rect x="131.20" y="180.55" width="14.85" height="10.25" fill="#4ca600"/><rect x="145.05" y="180.55" width="14.60" height="10.25" fill="#ff5c00"/><rect x="158.65" y="180.55" width="14.35" height="10.25" fill="#80c000"/><rect x="172.00" y="180.55" width="14.60" height="10.25" fill="#4ca600"/><rect x="185.60" y="180.55" width="14.40" height="10.25" fill="#d6eb00"/><rect x="199.00" y="180.55" width="14.85" height="10.25" fill="#b8db00"/><rect x="212.85" y="180.55" width="14.30" height="10.25" fill="#ff4c00"/><rect x="226.15" y="180.55" width="14.65" height="10.25" fill="#3d9e00"/><rect x="239.80" y="180.55" width="14.45" height="10.25" fill="#ff0000"/><rect x="253.25" y="180.55" width="15.05" height="10.25" fill="#339900"/><rect x="267.30" y="180.55" width="14.70" height="10.25" fill="#ff5700"/><rect x="281.00" y="180.55" width="14.65" height="10.25" fill="#ffc200"/><rect x="294.65" y="180.55" width="14.45" height="10.25" fill="#0a8500"/><rect x="308.10" y="180.55" width="14.60" height="10.25" fill="#8ac500"/><rect x="321.70" y="180.55" width="14.55" height="10.25" fill="#ffb200"/><rect x="335.25" y="180.55" width="14.65" height="10.25" fill="#66b300"/><rect x="348.90" y="180.55" width="14.60" height="10.25" fill="#1a8d00"/><rect x="362.50" y="180.55" width="14.50" height="10.25" fill="#1a8d00"/><rect x="376.00" y="180.55" width="14.70" height="10.25" fill="#70b800"/><rect x="389.70" y="180.55" width="14.50" height="10.25" fill="#a3d100"/><rect x="403.20" y="180.55" width="14.70" height="10.25" fill="#8ac500"/><rect x="416.90" y="180.55" width="14.25" height="10.25" fill="#ff0000"/><rect x="430.15" y="180.55" width="14.57" height="10.25" fill="#fff000"/><rect x="443.72" y="180.55" width="14.38" height="10.25" fill="#ff7a00"/><rect x="457.10" y="180.55" width="14.90" height="10.25" fill="#ffdb00"/><rect x="77.00" y="189.80" width="14.60" height="9.30" fill="#008000"/><rect x="90.60" y="189.80" width="14.50" height="9.30" fill="#008000"/><rect x="104.10" y="189.80" width="14.90" height="9.30" fill="#008000"/><rect x="118.00" y="189.80" width="14.20" height="9.30" fill="#008000"/><rect x="131.20" y="189.80" width="14.85" height="9.30" fill="#ff0000"/><rect x="145.05" y="189.80" width="14.60" height="9.30" fill="#008000"/><rect x="158.65" y="189.80" width="14.35" height="9.30" fill="#008000"/><rect x="172.00" y="189.80" width="14.60" height="9.30" fill="#008000"/><rect x="185.60" y="189.80" width="14.40" height="9.30" fill="#008000"/><rect x="199.00" y="189.80" width="14.85" height="9.30" fill="#008000"/><rect x="212.85" y="189.80" width="14.30" height="9.30" fill="#008000"/><rect x="226.15" y="189.80" width="14.65" height="9.30" fill="#008000"/><rect x="239.80" y="189.80" width="14.45" height="9.30" fill="#008000"/><rect x="253.25" y="189.80" width="15.05" height="9.30" fill="#008000"/><rect x="267.30" y="189.80" width="14.70" height="9.30" fill="#008000"/><rect x="281.00" y="189.80" width="14.65" height="9.30" fill="#008000"/><rect x="294.65" y="189.80" width="14.45" height="9.30" fill="#008000"/><rect x="308.10" y="189.80" width="14.60" height="9.30" fill="#008000"/><rect x="321.70" y="189.80" width="14.55" height="9.30" fill="#008000"/><rect x="335.25" y="189.80" width="14.65" height="9.30" fill="#008000"/><rect x="348.90" y="189.80" width="14.60" height="9.30" fill="#008000"/><rect x="362.50" y="189.80" width="14.50" height="9.30" fill="#008000"/><rect x="376.00" y="189.80" width="14.70" height="9.30" fill="#008000"/><rect x="389.70" y="189.80" width="14.50" height="9.30" fill="#008000"/><rect x="403.20" y="189.80" width="14.70" height="9.30" fill="#008000"/><rect x="416.90" y="189.80" width="14.25" height="9.30" fill="#008000"/><rect x="430.15" y="189.80" width="14.57" height="9.30" fill="#008000"/><rect x="443.72" y="189.80" width="14.38" height="9.30" fill="#008000"/><rect x="457.10" y="189.80" width="14.90" height="9.30" fill="#008000"/><rect x="77.00" y="198.10" width="14.60" height="9.90" fill="#0a8500"/><rect x="90.60" y="198.10" width="14.50" height="9.90" fill="#339900"/><rect x="104.10" y="198.10" width="14.90" height="9.90" fill="#0a8500"/><rect x="118.00" y="198.10" width="14.20" height="9.90" fill="#148a00"/><rect x="131.20" y="198.10" width="14.85" height="9.90" fill="#0a8500"/><rect x="145.05" y="198.10" width="14.60" height="9.90" fill="#148a00"/><rect x="158.65" y="198.10" width="14.35" height="9.90" fill="#0a8500"/><rect x="172.00" y="198.10" width="14.60" height="9.90" fill="#148a00"/><rect x="185.60" y="198.10" width="14.40" height="9.90" fill="#0a8500"/><rect x="199.00" y="198.10" width="14.85" height="9.90" fill="#299400"/><rect x="212.85" y="198.10" width="14.30" height="9.90" fill="#ffff00"/><rect x="226.15" y="198.10" width="14.65" height="9.90" fill="#148a00"/><rect x="239.80" y="198.10" width="14.45" height="9.90" fill="#1a8d00"/><rect x="253.25" y="198.10" width="15.05" height="9.90" fill="#c2e100"/><rect x="267.30" y="198.10" width="14.70" height="9.90" fill="#d6eb00"/><rect x="281.00" y="198.10" width="14.65" height="9.90" fill="#0a8500"/><rect x="294.65" y="198.10" width="14.45" height="9.90" fill="#ff0000"/><rect x="308.10" y="198.10" width="14.60" height="9.90" fill="#1f8f00"/><rect x="321.70" y="198.10" width="14.55" height="9.90" fill="#1f8f00"/><rect x="335.25" y="198.10" width="14.65" height="9.90" fill="#1f8f00"/><rect x="348.90" y="198.10" width="14.60" height="9.90" fill="#0a8500"/><rect x="362.50" y="198.10" width="14.50" height="9.90" fill="#148a00"/><rect x="376.00" y="198.10" width="14.70" height="9.90" fill="#4ca600"/><rect x="389.70" y="198.10" width="14.50" height="9.90" fill="#3d9e00"/><rect x="403.20" y="198.10" width="14.70" height="9.90" fill="#0a8500"/><rect x="416.90" y="198.10" width="14.25" height="9.90" fill="#0a8500"/><rect x="430.15" y="198.10" width="14.57" height="9.90" fill="#148a00"/><rect x="443.72" y="198.10" width="14.38" height="9.90" fill="#0a8500"/><rect x="457.10" y="198.10" width="14.90" height="9.90" fill="#148a00"/></g>
<line x1="77" y1="217.5" x2="209.5" y2="217.5" stroke="#363636" stroke-width="1.05"/>
<line x1="216.3" y1="217.5" x2="470.7" y2="217.5" stroke="#363636" stroke-width="1.05"/>
<rect x="487.5" y="7.5" width="7" height="231" fill="url(#g)" stroke="#000" stroke-width="1"/>
<line x1="495" y1="53.60" x2="497.8" y2="53.60" stroke="#222" stroke-width="1.1"/><line x1="495" y1="99.70" x2="497.8" y2="99.70" stroke="#222" stroke-width="1.1"/><line x1="495" y1="145.80" x2="497.8" y2="145.80" stroke="#222" stroke-width="1.1"/><line x1="495" y1="191.90" x2="497.8" y2="191.90" stroke="#222" stroke-width="1.1"/>
</svg>
<div class="lab" style="top:14px;transform:translateY(0.548px) scale(0.9642,1.06)">2-Propanol</div><div class="lab" style="top:23px;transform:translateY(0.193px) scale(0.9721,1.06)">Acetaldehyde</div><div class="lab" style="top:31px;transform:translateY(0.989px) scale(0.9534,1.06)">Acetone</div><div class="lab" style="top:40px;transform:translateY(0.884px) scale(0.9874,1.06)">Acetonitrile</div><div class="lab" style="top:49px;transform:translateY(0.630px) scale(0.9739,1.06)">Acrylonitrile</div><div class="lab" style="top:58px;transform:translateY(0.425px) scale(0.9523,1.06)">Benzene</div><div class="lab" style="top:67px;transform:translateY(0.070px) scale(0.9843,1.06)">Carbon disulfide</div><div class="lab" style="top:75px;transform:translateY(0.466px) scale(0.9597,1.06)">Dimethyl sulfide</div><div class="lab" style="top:84px;transform:translateY(0.561px) scale(0.9506,1.06)">Ethanol</div><div class="lab" style="top:93px;transform:translateY(0.307px) scale(0.9714,1.06)">Isoprene</div><div class="lab" style="top:102px;transform:translateY(0.102px) scale(0.9521,1.06)">Pentane</div><div class="lab" style="top:110px;transform:translateY(0.798px) scale(0.9655,1.06)">1-Decene</div><div class="lab" style="top:119px;transform:translateY(0.193px) scale(0.9667,1.06)">1-Heptene</div><div class="lab" style="top:127px;transform:translateY(0.889px) scale(0.9472,1.06)">1-Nonene</div><div class="lab" style="top:136px;transform:translateY(0.584px) scale(0.9934,1.06)">1-Octene</div><div class="lab" style="top:145px;transform:translateY(0.230px) scale(0.9544,1.06)">3-Methylhexane</div><div class="lab" style="top:153px;transform:translateY(0.925px) scale(0.9490,1.06)">(E)-2-Nonene</div><div class="lab" style="top:162px;transform:translateY(0.720px) scale(0.9592,1.06)">Ammonia</div><div class="lab" style="top:171px;transform:translateY(0.466px) scale(0.9506,1.06)">Ethane</div><div class="lab" style="top:180px;transform:translateY(0.161px) scale(0.9654,1.06)">Hydrogen sulfide</div><div class="lab" style="top:188px;transform:translateY(0.907px) scale(0.9197,1.06)">Triethyl amine</div><div class="lab" style="top:197px;transform:translateY(0.652px) scale(0.9123,1.06)">Trimethyl amine</div>
<div class="tk" style="top:48px;transform:translateY(0.800px)">0.8</div><div class="tk" style="top:94px;transform:translateY(0.750px)">0.6</div><div class="tk" style="top:140px;transform:translateY(0.800px)">0.4</div><div class="tk" style="top:186px;transform:translateY(0.800px)">0.2</div>
<div class="grp" style="left:103.25px;width:80px">No GVHD</div>
<div class="grp" style="left:303.0px;width:80px">GVHD</div>
</body></html>
